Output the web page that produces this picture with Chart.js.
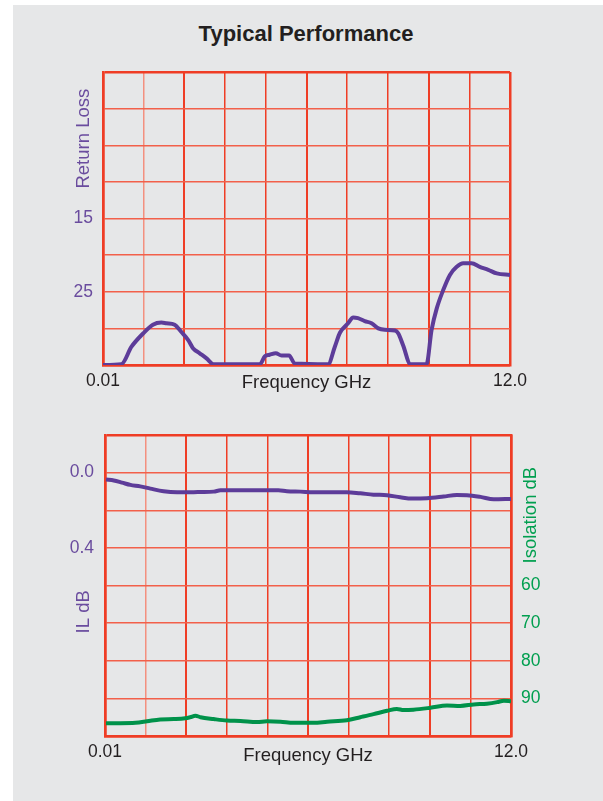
<!DOCTYPE html>
<html lang="en">
<head>
  <meta charset="UTF-8">
  <title>Typical Performance</title>
  <script src="https://cdn.jsdelivr.net/npm/chart.js@4"></script>
  <style>
    * { margin: 0; padding: 0; box-sizing: border-box; }
    body { width: 603px; height: 801px; background: #fff; position: relative; overflow: hidden;
      font-family: "Liberation Sans", Arial, sans-serif; }
    .panel { position: absolute; left: 13px; top: 5px; right: 0; bottom: 0; background: #e6e7e8; }
    .title { position: absolute; left: 0; width: 612px; top: 21px; text-align: center;
      font-weight: bold; font-size: 22px; color: #231f20; }
    .clip { position: absolute; left: 0; overflow: hidden; }
    .inner { position: relative; width: 603px; }
  </style>
</head>
<body>
  <div class="panel"></div>
  <div class="title">Typical Performance</div>
  <div class="clip" style="top:60px;width:527px;height:340px;">
    <div class="inner" style="height:340px;"><canvas id="rlChart"></canvas></div>
  </div>
  <div class="clip" style="top:420px;width:603px;height:380px;">
    <div class="inner" style="height:380px;"><canvas id="ilChart"></canvas></div>
  </div>

  <script>
    // frequency grid (GHz) and labels shown under the plots
    const freqTicks = [0.01, 1.209, 2.408, 3.607, 4.806, 6.005, 7.204, 8.403, 9.602, 10.801, 12.0];
    const freqLabels = ['0.01', '', '', '', '', '', '', '', '', '', '12.0'];

    // return loss (dB), axis grows downward
    const rlFreq = [0.01, 0.55, 0.85, 1.19, 1.48, 1.73, 1.88, 2.12, 2.32, 2.52, 2.66, 2.86, 3.06, 3.27,
      4.63, 4.78, 4.92, 5.10, 5.27, 5.49, 5.66, 6.64, 6.84, 6.99, 7.23, 7.38, 7.52, 7.72, 7.92, 8.12,
      8.31, 8.61, 8.71, 8.85, 9.07, 9.54, 9.69, 9.84, 10.03, 10.23, 10.43, 10.62, 10.87, 11.11, 11.36,
      11.61, 12.0];
    const rlValues = [35, 34.9, 32.5, 30.7, 29.5, 29.2, 29.3, 29.5, 30.5, 31.6, 32.7, 33.4, 34.1, 34.9,
      34.9, 33.8, 33.6, 33.4, 33.7, 33.7, 34.8, 34.9, 32.5, 30.6, 29.3, 28.5, 28.6, 29.0, 29.3, 30.0,
      30.2, 30.3, 30.7, 32.3, 34.9, 34.9, 30.2, 27.3, 24.8, 22.7, 21.6, 21.1, 21.1, 21.6, 22.0,
      22.5, 22.7];
    const rlShown = ['15', '25'];

    // insertion loss (dB)
    const ilFreq = [0.04, 0.27, 0.51, 0.76, 1.05, 1.35, 1.74, 2.14, 2.63, 2.83, 3.22, 3.42, 4.10, 4.79,
      5.13, 5.38, 5.78, 6.17, 7.15, 7.55, 7.94, 8.34, 8.73, 9.08, 9.52, 10.01, 10.40, 10.70, 11.10,
      11.49, 12.0];
    const ilValues = [0.037, 0.042, 0.053, 0.065, 0.073, 0.085, 0.099, 0.104, 0.104, 0.103, 0.101, 0.094,
      0.094, 0.094, 0.094, 0.099, 0.101, 0.104, 0.104, 0.110, 0.117, 0.120, 0.131, 0.138, 0.136, 0.127,
      0.119, 0.120, 0.129, 0.142, 0.140];
    const ilShown = ['0.0', '0.4'];

    // isolation (dB)
    const isoFreq = [0.04, 0.46, 0.91, 1.25, 1.64, 2.04, 2.38, 2.53, 2.68, 2.83, 3.22, 3.61, 4.01, 4.50,
      4.79, 5.19, 5.58, 6.17, 6.57, 7.15, 7.55, 7.94, 8.34, 8.63, 8.83, 9.12, 9.62, 10.11, 10.50, 10.90,
      11.29, 11.59, 11.79, 12.0];
    const isoValues = [96.6, 96.6, 96.5, 96.1, 95.6, 95.5, 95.3, 95.0, 94.6, 95.0, 95.5, 95.9, 96.0, 96.3,
      96.1, 96.2, 96.5, 96.5, 96.2, 95.8, 95.0, 94.2, 93.3, 92.8, 93.1, 93.0, 92.5, 91.9, 92.0, 91.6,
      91.4, 91.0, 90.6, 90.8];
    const isoShown = ['60', '70', '80', '90'];

    const RED = '#ef3d25';
    const RED_SOFT = '#f2604a';
    const RED_LIGHT = '#f3907f';
    const PURPLE = '#5d3c99';
    const PURPLE_TEXT = '#6a4c9e';
    const GREEN = '#00924a';
    const GREEN_TEXT = '#009f4f';
    const DARK = '#231f20';
    const FAMILY = '"Liberation Sans", Arial, sans-serif';
    const NUM_FONT = { family: FAMILY, size: 17.5 };
    const TITLE_FONT = { family: FAMILY, size: 18.5 };

    const toPoints = (xs, ys) => xs.map((x, i) => ({ x: x, y: ys[i] }));
    // label only the listed values (string compare avoids -0.0 style rounding noise)
    const pickLabel = (shown, digits) => v => {
      const s = Math.abs(v) < 1e-9 ? (0).toFixed(digits) : v.toFixed(digits);
      return shown.includes(s) ? s : '';
    };

    // vertical grid: edges strong, every third a bit heavier, first one faded
    const vColor = ctx => ctx.index === 1 ? RED_LIGHT : RED;
    const vWidth = ctx => (ctx.index === 0 || ctx.index === 10) ? 2.5 : (ctx.index % 3 === 2 ? 2 : 1.5);
    const hColor = ctx => (ctx.index === 0 || ctx.index === 8) ? RED : RED_SOFT;
    const hWidth = ctx => (ctx.index === 0 || ctx.index === 8) ? 2.5 : 1.5;

    // rotated side titles placed against an axis value
    const sideTitles = {
      id: 'sideTitles',
      afterDraw(chart, args, opts) {
        const ctx = chart.ctx;
        const area = chart.chartArea;
        opts.items.forEach(t => {
          const y = chart.scales[t.scale].getPixelForValue(t.at);
          const x = t.side === 'left' ? area.left + t.dx : area.right + t.dx;
          ctx.save();
          ctx.translate(x, y);
          ctx.rotate(-Math.PI / 2);
          ctx.font = TITLE_FONT.size + 'px ' + FAMILY;
          ctx.fillStyle = t.color;
          ctx.textAlign = 'center';
          ctx.textBaseline = 'middle';
          ctx.fillText(t.text, 0, 0);
          ctx.restore();
        });
      }
    };

    function freqAxis(height, titlePad) {
      return {
        type: 'linear',
        min: 0.01,
        max: 12.0,
        afterBuildTicks: s => { s.ticks = freqTicks.map(v => ({ value: v })); },
        afterFit: s => { s.height = height; },
        ticks: {
          callback: (v, i) => freqLabels[i],
          autoSkip: false, maxRotation: 0, padding: 6,
          color: DARK, font: NUM_FONT
        },
        grid: { color: vColor, lineWidth: vWidth, drawTicks: false },
        border: { display: true, color: RED, width: 2.5 },
        title: { display: true, text: 'Frequency GHz', color: DARK, font: TITLE_FONT,
          padding: { top: 0, bottom: titlePad } }
      };
    }

    // fixed side width, and no extra label padding pushing the plot down
    const sideFit = w => s => { s.width = w; s.paddingTop = 0; s.paddingBottom = 0; };

    Chart.register(sideTitles);

    new Chart(document.getElementById('rlChart'), {
      type: 'line',
      data: {
        datasets: [{
          label: 'Return Loss',
          data: toPoints(rlFreq, rlValues),
          borderColor: PURPLE,
          borderWidth: 4,
          pointRadius: 0,
          cubicInterpolationMode: 'monotone'
        }]
      },
      options: {
        responsive: true,
        maintainAspectRatio: false,
        animation: false,
        layout: { padding: { top: 12, right: 93, bottom: 0, left: 0 } },
        scales: {
          x: freqAxis(35, 6),
          y: {
            type: 'linear',
            reverse: true,
            min: -5,
            max: 35,
            afterFit: sideFit(103),
            ticks: { stepSize: 5, padding: 10, color: PURPLE_TEXT, font: NUM_FONT,
              callback: pickLabel(rlShown, 0) },
            grid: { color: hColor, lineWidth: hWidth, drawTicks: false },
            border: { display: true, color: RED, width: 2.5 }
          }
        },
        plugins: {
          legend: { display: false },
          tooltip: { enabled: false },
          sideTitles: { items: [
            { text: 'Return Loss', scale: 'y', at: 4.1, side: 'left', dx: -19, color: PURPLE_TEXT }
          ] }
        }
      }
    });

    new Chart(document.getElementById('ilChart'), {
      type: 'line',
      data: {
        datasets: [{
          label: 'IL dB',
          data: toPoints(ilFreq, ilValues),
          yAxisID: 'y',
          borderColor: PURPLE,
          borderWidth: 4,
          pointRadius: 0,
          cubicInterpolationMode: 'monotone'
        }, {
          label: 'Isolation dB',
          data: toPoints(isoFreq, isoValues),
          yAxisID: 'y1',
          borderColor: GREEN,
          borderWidth: 4,
          pointRadius: 0,
          cubicInterpolationMode: 'monotone'
        }]
      },
      options: {
        responsive: true,
        maintainAspectRatio: false,
        animation: false,
        layout: { padding: { top: 15, right: 0, bottom: 30, left: 0 } },
        scales: {
          x: freqAxis(34, 3),
          y: {
            type: 'linear',
            position: 'left',
            reverse: true,
            min: -0.2,
            max: 1.4,
            afterFit: sideFit(105),
            ticks: { stepSize: 0.2, padding: 11, color: PURPLE_TEXT, font: NUM_FONT,
              callback: pickLabel(ilShown, 1) },
            grid: { color: hColor, lineWidth: hWidth, drawTicks: false },
            border: { display: true, color: RED, width: 2.5 }
          },
          y1: {
            type: 'linear',
            position: 'right',
            reverse: true,
            min: 20,
            max: 100,
            afterFit: sideFit(92),
            ticks: { stepSize: 10, padding: 10, color: GREEN_TEXT, font: NUM_FONT,
              callback: pickLabel(isoShown, 0) },
            grid: { drawOnChartArea: false, drawTicks: false },
            border: { display: true, color: RED, width: 2.5 }
          }
        },
        plugins: {
          legend: { display: false },
          tooltip: { enabled: false },
          sideTitles: { items: [
            { text: 'IL dB', scale: 'y', at: 0.74, side: 'left', dx: -21, color: PURPLE_TEXT },
            { text: 'Isolation dB', scale: 'y1', at: 41.3, side: 'right', dx: 20, color: GREEN_TEXT }
          ] }
        }
      }
    });
  </script>
</body>
</html>
